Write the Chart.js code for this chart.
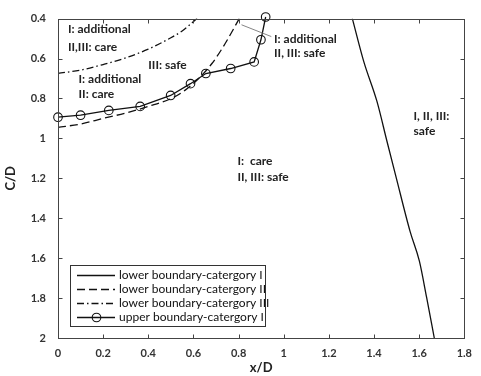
<!DOCTYPE html>
<html><head><meta charset="utf-8">
<script src="https://cdn.jsdelivr.net/npm/chart.js@4.4.1/dist/chart.umd.min.js"></script>
<style>html,body{margin:0;padding:0;background:#fff;}#wrap{width:481px;height:376px;position:relative;}</style>
</head><body><div id="wrap"><canvas id="c"></canvas></div>
<script>
// ---- data ----
const xTickLabels = ['0','0.2','0.4','0.6','0.8','1','1.2','1.4','1.6','1.8'];
const yTickLabels = ['0.4','0.6','0.8','1','1.2','1.4','1.6','1.8','2'];

const lowerCatI_x = [1.304, 1.355, 1.413, 1.457, 1.498, 1.56, 1.601, 1.633, 1.667];
const lowerCatI_y = [0.40, 0.617, 0.815, 1.013, 1.195, 1.467, 1.615, 1.797, 2.0];

const lowerCatII_x = [0, 0.1, 0.2, 0.3, 0.4, 0.506, 0.565, 0.623, 0.682, 0.74, 0.803];
const lowerCatII_y = [0.945, 0.928, 0.90, 0.873, 0.84, 0.798, 0.757, 0.70, 0.625, 0.526, 0.40];

const lowerCatIII_x = [0, 0.1, 0.2, 0.3, 0.4, 0.45, 0.5, 0.55, 0.616];
const lowerCatIII_y = [0.674, 0.658, 0.630, 0.597, 0.553, 0.526, 0.496, 0.462, 0.40];

const upperCatI_x = [0, 0.1, 0.225, 0.364, 0.499, 0.587, 0.655, 0.765, 0.869, 0.899, 0.92];
const upperCatI_y = [0.894, 0.884, 0.86, 0.84, 0.785, 0.726, 0.675, 0.65, 0.617, 0.506, 0.392];

const seriesLabels = ['lower boundary-catergory I','lower boundary-catergory II','lower boundary-catergory III','upper boundary-catergory I'];

// region labels (data coordinates of left edge / line centres)
const regionLabels = [
  {x:0.044, y:[0.452,0.541], text:['I: additional','II,III: care']},
  {x:0.40,  y:[0.635], text:['III: safe']},
  {x:0.091, y:[0.702,0.776], text:['I: additional','II: care']},
  {x:0.957, y:[0.501,0.575], text:['I: additional','II, III: safe']},
  {x:0.795, y:[1.115,1.193], text:['I:  care','II, III: safe']},
  {x:1.575, y:[0.891,0.962], text:['I, II, III:','safe']}
];
const leaderLine = {x:[0.813,0.945], y:[0.431,0.49]};

function pts(xs, ys){ return xs.map((v,i)=>({x:v, y:ys[i]})); }

const overlay = {
  id:'overlay',
  afterDatasetsDraw(chart){
    const {ctx, chartArea:a, scales:{x, y}} = chart;
    ctx.save();
    // frame
    ctx.strokeStyle = '#444'; ctx.lineWidth = 1;
    const L = Math.round(a.left)+0.5, T = Math.round(a.top)+0.5, R = Math.round(a.right)+0.5, B = Math.round(a.bottom)+0.5;
    ctx.strokeRect(L, T, R-L, B-T);
    // inward ticks on all sides
    const tl = 4;
    ctx.beginPath();
    x.ticks.forEach(t=>{
      const p = Math.round(x.getPixelForValue(t.value))+0.5;
      ctx.moveTo(p,B); ctx.lineTo(p,B-tl);
      ctx.moveTo(p,T); ctx.lineTo(p,T+tl);
    });
    y.ticks.forEach(t=>{
      const p = Math.round(y.getPixelForValue(t.value))+0.5;
      ctx.moveTo(L,p); ctx.lineTo(L+tl,p);
      ctx.moveTo(R,p); ctx.lineTo(R-tl,p);
    });
    ctx.stroke();
    // leader line
    ctx.strokeStyle = '#777'; ctx.lineWidth = 0.9;
    ctx.beginPath();
    ctx.moveTo(x.getPixelForValue(leaderLine.x[0]), y.getPixelForValue(leaderLine.y[0]));
    ctx.lineTo(x.getPixelForValue(leaderLine.x[1]), y.getPixelForValue(leaderLine.y[1]));
    ctx.stroke();
    // region labels
    ctx.fillStyle = '#222';
    ctx.font = 'bold 12px Lato';
    ctx.textBaseline = 'middle'; ctx.textAlign = 'left';
    regionLabels.forEach(r=>{
      r.text.forEach((t,i)=>{
        ctx.fillText(t, x.getPixelForValue(r.x), y.getPixelForValue(r.y[i]));
      });
    });
    // legend
    const bx = a.left + 12, by = a.bottom - 73, bw = 195, bh = 61;
    ctx.fillStyle = '#fff';
    ctx.fillRect(bx, by, bw, bh);
    ctx.strokeStyle = '#333'; ctx.lineWidth = 1;
    ctx.strokeRect(Math.round(bx)+0.5, Math.round(by)+0.5, bw, bh);
    ctx.font = '12px Lato';
    chart.data.datasets.forEach((ds, i)=>{
      const cy = by + 10.5 + i*14;
      ctx.save();
      ctx.strokeStyle = ds.borderColor; ctx.lineWidth = ds.borderWidth;
      ctx.setLineDash(ds.borderDash || []);
      ctx.beginPath(); ctx.moveTo(bx+7, cy); ctx.lineTo(bx+45, cy); ctx.stroke();
      ctx.setLineDash([]);
      if (ds.pointRadius > 0) {
        ctx.beginPath(); ctx.arc(bx+26.5, cy, ds.pointRadius, 0, Math.PI*2);
        ctx.strokeStyle = ds.pointBorderColor; ctx.lineWidth = ds.pointBorderWidth; ctx.stroke();
      }
      ctx.restore();
      ctx.fillStyle = '#111';
      ctx.fillText(ds.label, bx+49, cy);
    });
    ctx.restore();
  }
};

const common = {showLine:true, fill:false, tension:0, borderColor:'#111', borderWidth:1.3, pointRadius:0, pointHoverRadius:0};
const smooth = {cubicInterpolationMode:'monotone'};

new Chart(document.getElementById('c'), {
  type:'scatter',
  data:{ datasets:[
    Object.assign({}, common, smooth, {label:seriesLabels[0], data:pts(lowerCatI_x, lowerCatI_y)}),
    Object.assign({}, common, smooth, {label:seriesLabels[1], data:pts(lowerCatII_x, lowerCatII_y), borderDash:[8,4]}),
    Object.assign({}, common, smooth, {label:seriesLabels[2], data:pts(lowerCatIII_x, lowerCatIII_y), borderDash:[7,3,1.5,3]}),
    Object.assign({}, common, {label:seriesLabels[3], data:pts(upperCatI_x, upperCatI_y), pointRadius:4.3, pointStyle:'circle',
      pointBackgroundColor:'rgba(0,0,0,0)', pointBorderColor:'#111', pointBorderWidth:1.1, clip:false})
  ]},
  plugins:[overlay],
  options:{
    responsive:true, maintainAspectRatio:false, animation:false, devicePixelRatio:1,
    layout:{padding:{left:0, right:13, top:14, bottom:0}},
    plugins:{legend:{display:false}, tooltip:{enabled:false}},
    scales:{
      x:{ type:'linear', min:0, max:1.8,
        afterBuildTicks:s=>{ s.ticks = xTickLabels.map(v=>({value:parseFloat(v)})); },
        afterFit:s=>{ s.height = 38; },
        grid:{display:false, drawTicks:false}, border:{display:false},
        ticks:{padding:9, color:'#333', font:{family:'Lato', size:11, weight:'bold'}, maxRotation:0,
          callback:(v,i)=>xTickLabels[i]},
        title:{display:true, text:'x/D', color:'#222', font:{family:'Lato', size:13, weight:'bold'}, padding:{top:0,bottom:0}}
      },
      y:{ type:'linear', reverse:true, min:0.4, max:2,
        afterBuildTicks:s=>{ s.ticks = yTickLabels.map(v=>({value:parseFloat(v)})); },
        afterFit:s=>{ s.width = 58; },
        grid:{display:false, drawTicks:false}, border:{display:false},
        ticks:{padding:12, color:'#333', font:{family:'Lato', size:11, weight:'bold'},
          callback:(v,i)=>yTickLabels[i]},
        title:{display:true, text:'C/D', color:'#222', font:{family:'Lato', size:13, weight:'bold'}, padding:{top:3,bottom:0}}
      }
    }
  }
});
</script></body></html>
